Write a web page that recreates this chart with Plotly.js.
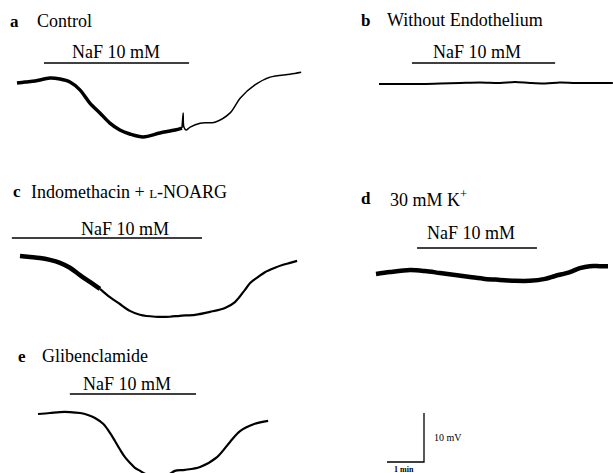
<!DOCTYPE html>
<html>
<head>
<meta charset="utf-8">
<script src="https://cdn.plot.ly/plotly-3.0.1.min.js"></script>
<style>html,body{margin:0;padding:0;background:#fff;}#chart{width:613px;height:473px;}</style>
</head>
<body>
<div id="chart"></div>
<script>
// ---- Data: time (min from trace start) and membrane potential change (mV) ----
const aTime = [0,0.22,0.49,0.89,1.16,1.43,1.70,1.97,2.24,2.51,2.78,3.05,3.41,3.86,4.27,4.46,4.49,4.51,4.57,4.68,4.95,5.35,5.76,6.03,6.43,6.84,7.38,7.68];
const aMv   = [0,0.2,0.4,1.0,0.8,0.2,-1.4,-4.1,-6.1,-8.2,-9.6,-10.4,-11.0,-10.2,-9.6,-9.2,-6.1,-9.0,-9.6,-9.0,-8.2,-8.0,-6.1,-3.1,-0.4,1.2,1.8,2.2];

const bTime = [0,0.57,1.11,1.65,2.19,2.73,3.27,3.68,4.08,4.49,4.89,5.30,5.70,6.32];
const bMv   = [0,0,0,0.1,0.2,0.3,0.2,0.4,0.2,0.1,0.3,0.2,0.2,0.2];

const cTime = [0,0.27,0.54,0.81,1.08,1.35,1.62,1.89,2.16,2.43,2.70,2.97,3.24,3.65,4.05,4.32,4.73,5.14,5.54,5.81,6.08,6.22,6.43,6.62,6.89,7.11,7.30,7.49];
const cMv   = [0,-0.2,-0.4,-0.8,-1.4,-2.4,-3.9,-5.3,-6.7,-8.4,-9.8,-11.2,-12.0,-12.4,-12.4,-12.2,-12.0,-11.4,-10.6,-9.4,-6.9,-5.5,-4.3,-3.3,-2.4,-1.8,-1.4,-1.0];

const dTime = [0,0.38,0.92,1.32,1.73,2.14,2.54,2.95,3.35,3.76,4.16,4.57,4.84,5.24,5.51,5.78,6.05,6.27];
const dMv   = [0,0.4,0.8,0.6,0.2,-0.2,-0.6,-1.0,-1.2,-1.4,-1.4,-1.0,-0.4,0.4,1.2,1.6,1.6,1.6];

const eTime = [0,0.32,0.59,0.86,1.14,1.35,1.54,1.76,1.95,2.08,2.22,2.35,2.49,2.62,2.76,2.89,3.03,3.30,3.57,3.70,3.97,4.38,4.84,5.19,5.46,5.86,6.22];
const eMv   = [0,0.2,0.4,0.4,0.2,-0.2,-0.8,-2.0,-3.9,-5.5,-7.3,-8.8,-10.0,-11.0,-11.6,-12.2,-12.7,-12.9,-12.2,-11.6,-11.4,-10.8,-8.8,-5.7,-3.5,-2.0,-1.4];

// NaF 10 mM application bars: [start min, end min]
const nafA = [0.73, 4.65];
const nafB = [0.89, 4.76];
const nafC = [-0.22, 4.92];
const nafD = [1.11, 4.35];
const nafE = [0.86, 4.27];

const panelTitles = ["Control", "Without Endothelium", "Indomethacin + <span style='font-size:13px'>L</span>-NOARG", "30 mM K<sup>+</sup>", "Glibenclamide"];
const panelLetters = ["a", "b", "c", "d", "e"];
const nafLabel = "NaF 10 mM";
const scaleMv = 10, scaleMin = 1;

// ---- Layout geometry (page pixels) ----
const W = 613, H = 473;
const PX_PER_MIN = 37, PX_PER_MV = 4.9;
const origins = [[17,83],[379,84],[20,256],[376,274],[38,414]];
const barLevels = [63,63,238,248,394];
const widths = [[3.5,1.5],[2],[4.5,2.2],[4.5],[2.2]];

const traces = [];
const FONT = '"Liberation Serif", "Times New Roman", serif';
const layout = {
  width: W, height: H, margin:{l:0,r:0,t:0,b:0},
  paper_bgcolor:'#fff', plot_bgcolor:'rgba(0,0,0,0)', showlegend:false,
  annotations: [], font:{family:FONT, color:'#000', size:12}
};
const data = [[aTime,aMv],[bTime,bMv],[cTime,cMv],[dTime,dMv],[eTime,eMv]];
const nafs = [nafA,nafB,nafC,nafD,nafE];

origins.forEach((o,i)=>{
  const k = i+1;
  const xa = k===1?'x':'x'+k, ya = k===1?'y':'y'+k;
  const xr = [-o[0]/PX_PER_MIN, (W-o[0])/PX_PER_MIN];
  const yr = [-(H-o[1])/PX_PER_MV, o[1]/PX_PER_MV];
  const axX = {range:xr, domain:[0,1], visible:false, fixedrange:true};
  const axY = {range:yr, domain:[0,1], visible:false, fixedrange:true};
  if(k>1){ axX.overlaying='x'; axY.overlaying='y'; axX.anchor=ya; axY.anchor=xa; }
  layout[k===1?'xaxis':'xaxis'+k] = axX;
  layout[k===1?'yaxis':'yaxis'+k] = axY;
  const [t,v] = data[i];
  const w = widths[i];
  const ln = (wd)=>({color:'#000', width:wd, shape:'spline', smoothing:0.9});
  if(w.length===2){
    const split = i===0 ? 15 : 8;
    traces.push({x:t.slice(0,split+1), y:v.slice(0,split+1), xaxis:xa, yaxis:ya, mode:'lines', line:ln(w[0]), hoverinfo:'skip'});
    traces.push({x:t.slice(split), y:v.slice(split), xaxis:xa, yaxis:ya, mode:'lines', line:ln(w[1]), hoverinfo:'skip'});
  } else {
    traces.push({x:t, y:v, xaxis:xa, yaxis:ya, mode:'lines', line:ln(w[0]), hoverinfo:'skip'});
  }
  const lvl = (o[1]-barLevels[i])/PX_PER_MV;
  traces.push({x:nafs[i], y:[lvl,lvl], xaxis:xa, yaxis:ya, mode:'lines', line:{color:'#000', width:1.5}, hoverinfo:'skip'});
});

// scale bar on panel e axes
const sbT = (424-38)/PX_PER_MIN, sbV = -(462-414)/PX_PER_MV;
traces.push({x:[sbT-scaleMin, sbT, sbT], y:[sbV, sbV, sbV+scaleMv], xaxis:'x5', yaxis:'y5', mode:'lines', line:{color:'#000', width:1.3}, hoverinfo:'skip'});

function ann(text, x, y, size, opts){
  layout.annotations.push(Object.assign({text:text, xref:'paper', yref:'paper', x:x/W, y:1-y/H, showarrow:false, xanchor:'left', yanchor:'middle', font:{size:size, color:'#000', family:FONT}}, opts||{}));
}
const letterPos = [[8,21],[359,20],[11,192],[359,198],[16,356]];
const titlePos = [[35,21],[385,20],[29,192],[388,198],[40,356]];
panelLetters.forEach((L,i)=>{
  ann('<b>'+L+'</b>', letterPos[i][0], letterPos[i][1], 17);
  ann(panelTitles[i], titlePos[i][0], titlePos[i][1], 18);
});
const nafPos = [[116,52],[477,52],[125,229],[471,233],[127,384]];
nafPos.forEach(p=>ann(nafLabel, p[0], p[1], 18, {xanchor:'center'}));
ann(scaleMv+' mV', 432, 437, 10);
ann('<b>'+scaleMin+' min</b>', 404, 475, 8, {xanchor:'center', yanchor:'bottom', borderpad:0});

Plotly.newPlot('chart', traces, layout, {staticPlot:true, displayModeBar:false});
</script>
</body>
</html>
